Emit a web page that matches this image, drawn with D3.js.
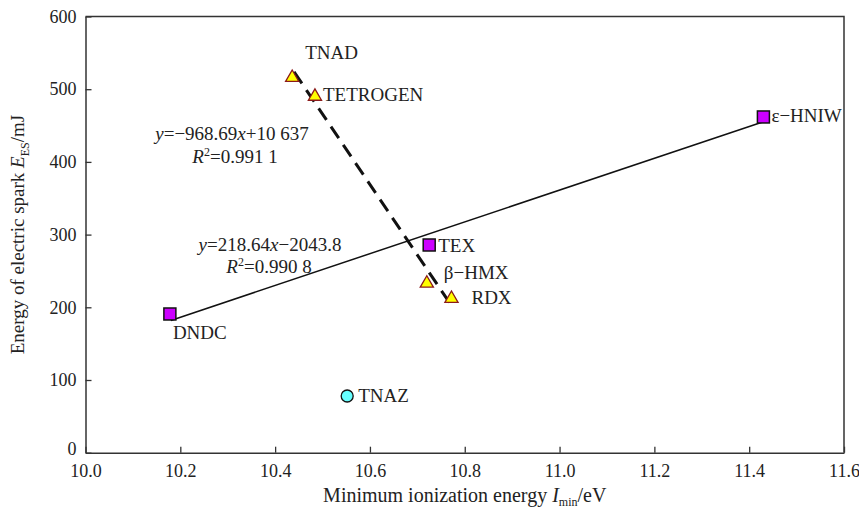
<!DOCTYPE html>
<html>
<head>
<meta charset="utf-8">
<script src="https://cdn.jsdelivr.net/npm/d3@7"></script>
<style>
    body { margin: 0; background: #fff; }
</style>
</head>
<body>
<div id="chart"></div>
<script>
// compounds and their values
const compounds = ["TNAD", "TETROGEN", "TEX", "β−HMX", "RDX", "DNDC", "TNAZ", "ε−HNIW"];
const ionization = [10.436, 10.484, 10.725, 10.72, 10.772, 10.178, 10.552, 11.43];
const sparkEnergy = [516, 490, 285.7, 233, 212, 190.8, 78, 461.8];
const markerKind = ["triangle", "triangle", "square", "triangle", "triangle", "square", "circle", "square"];

// label offsets (px) from the marker centre
const labelOffsets = [[13, -19], [8, 5], [9, 7], [17, -4], [20, 5], [3, 25], [11, 6], [8, 5]];

// regression fits
const fitSlopes = [218.64, -968.69];
const fitIntercepts = [-2043.8, 10637];
const fitRanges = [[10.18, 11.43], [10.44, 10.77]];

const xTicks = [10.0, 10.2, 10.4, 10.6, 10.8, 11.0, 11.2, 11.4, 11.6];
const yTicks = [0, 100, 200, 300, 400, 500, 600];

const FONT = "'Liberation Serif', 'Times New Roman', Times, serif";
const FS = "19px";

const width = 859, height = 511;
const margin = {top: 16.5, right: 15, bottom: 58.3, left: 85.5};
const innerW = width - margin.left - margin.right;
const innerH = height - margin.top - margin.bottom;

const svg = d3.select("#chart").append("svg")
    .attr("width", width)
    .attr("height", height)
    .style("font-family", FONT);

const g = svg.append("g").attr("transform", `translate(${margin.left},${margin.top})`);

const x = d3.scaleLinear().domain([10.0, 11.6]).range([0, innerW]);
const y = d3.scaleLinear().domain([0, 600]).range([innerH, 0]);

// frame (top and right sides)
g.append("path")
    .attr("d", `M0,0 H${innerW} V${innerH}`)
    .attr("fill", "none")
    .attr("stroke", "#333")
    .attr("stroke-width", 1.5);

// axes with inward ticks
let xAxis = g.append("g")
    .attr("transform", `translate(0,${innerH})`)
    .call(d3.axisBottom(x).tickValues(xTicks).tickFormat(d3.format(".1f"))
        .tickSizeInner(-6).tickSizeOuter(0).tickPadding(12));

let yAxis = g.append("g")
    .call(d3.axisLeft(y).tickValues(yTicks).tickFormat(d3.format("d"))
        .tickSizeInner(-6).tickSizeOuter(0).tickPadding(9));

[xAxis, yAxis].forEach(ax => {
    ax.attr("font-family", FONT).attr("font-size", 18);
    ax.select(".domain").attr("stroke", "#333").attr("stroke-width", 1.5);
    ax.selectAll(".tick line").attr("stroke", "#333").attr("stroke-width", 1.3);
    ax.selectAll(".tick text")
        .style("font-family", FONT)
        .style("font-size", "18px")
        .attr("fill", "#222");
});
// the zero label sits slightly higher so it clears 10.0
yAxis.selectAll(".tick text").filter(d => d === 0).attr("dy", "0.1em");

// regression lines
let fits = fitSlopes.map((s, i) => fitRanges[i].map(v => [v, s * v + fitIntercepts[i]]));
let line = d3.line().x(d => x(d[0])).y(d => y(d[1]));

g.append("path")
    .attr("d", line(fits[0]))
    .attr("fill", "none")
    .attr("stroke", "#111")
    .attr("stroke-width", 1.5);

g.append("path")
    .attr("d", line(fits[1]))
    .attr("fill", "none")
    .attr("stroke", "#111")
    .attr("stroke-width", 3)
    .attr("stroke-dasharray", "14,8");

// markers
let points = compounds.map((name, i) => ({
    name: name,
    cx: x(ionization[i]),
    cy: y(sparkEnergy[i]),
    kind: markerKind[i],
    off: labelOffsets[i]
}));

let markers = g.append("g").selectAll("g")
    .data(points).enter()
    .append("g")
    .attr("transform", d => `translate(${d.cx},${d.cy})`);

markers.each(function(d) {
    let m = d3.select(this);
    if (d.kind === "square") {
        m.append("rect")
            .attr("x", -6).attr("y", -6)
            .attr("width", 12).attr("height", 12)
            .attr("fill", "#cc00ff")
            .attr("stroke", "#111")
            .attr("stroke-width", 1.5);
    } else if (d.kind === "triangle") {
        m.append("path")
            .attr("d", d3.symbol(d3.symbolTriangle, 75)())
            .attr("fill", "#ffff00")
            .attr("stroke", "#8b1a1a")
            .attr("stroke-width", 1.3);
    } else {
        m.append("circle")
            .attr("r", 6)
            .attr("fill", "#66ffff")
            .attr("stroke", "#111")
            .attr("stroke-width", 1.3);
    }
});

markers.append("text")
    .attr("x", d => d.off[0])
    .attr("y", d => d.off[1])
    .style("font-family", FONT)
    .style("font-size", FS)
    .attr("fill", "#222")
    .text(d => d.name);

// equation annotations
function equation(cx, by, parts) {
    let t = g.append("text")
        .attr("x", cx - margin.left)
        .attr("y", by - margin.top)
        .attr("text-anchor", "middle")
        .attr("fill", "#222")
        .style("font-family", FONT)
        .style("font-size", FS);
    parts.forEach(p => {
        let s = t.append("tspan").text(p.t);
        if (p.i) s.style("font-style", "italic");
        if (p.sup) s.style("font-size", "12px").attr("dy", -7);
        if (p.after) s.attr("dy", 7);
    });
}

equation(232, 140, [{t: "y", i: true}, {t: "=−968.69"}, {t: "x", i: true}, {t: "+10 637"}]);
equation(235, 163, [{t: "R", i: true}, {t: "2", sup: true}, {t: "=0.991 1", after: true}]);
equation(270, 251, [{t: "y", i: true}, {t: "=218.64"}, {t: "x", i: true}, {t: "−2043.8"}]);
equation(269, 273, [{t: "R", i: true}, {t: "2", sup: true}, {t: "=0.990 8", after: true}]);

// axis titles
let xTitle = svg.append("text")
    .attr("x", margin.left + innerW / 2)
    .attr("y", 502)
    .attr("text-anchor", "middle")
    .attr("fill", "#222")
    .style("font-family", FONT)
    .style("font-size", "20px");
xTitle.append("tspan").text("Minimum ionization energy ");
xTitle.append("tspan").text("I").style("font-style", "italic");
xTitle.append("tspan").text("min").style("font-size", "12px").attr("dy", 4);
xTitle.append("tspan").text("/eV").attr("dy", -4);

let yTitle = svg.append("text")
    .attr("transform", `translate(24,${margin.top + innerH / 2}) rotate(-90)`)
    .attr("text-anchor", "middle")
    .attr("fill", "#222")
    .style("font-family", FONT)
    .style("font-size", FS);
yTitle.append("tspan").text("Energy of electric spark ");
yTitle.append("tspan").text("E").style("font-style", "italic");
yTitle.append("tspan").text("ES").style("font-size", "12px").attr("dy", 5);
yTitle.append("tspan").text("/mJ").attr("dy", -5);
</script>
</body>
</html>
